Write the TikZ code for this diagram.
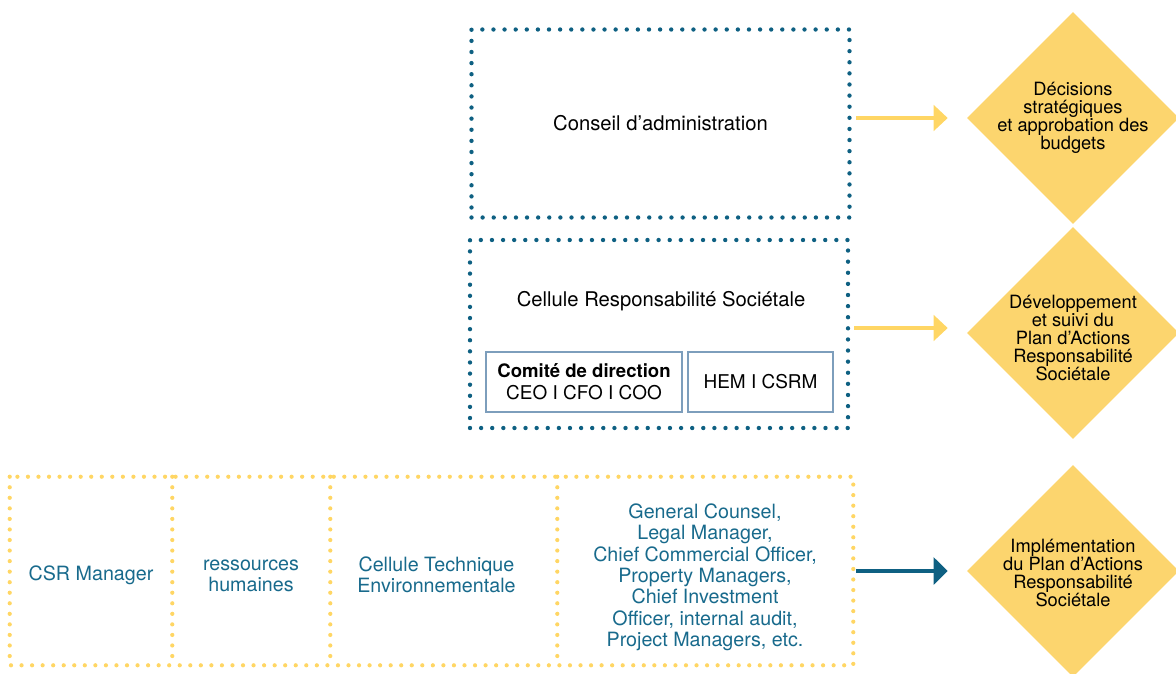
\documentclass[tikz,border=0pt]{standalone}
\usepackage{fontspec}
\setmainfont{TeX Gyre Heros}
\usepackage{tikz}
\usetikzlibrary{shapes.geometric,arrows.meta,calc}
\definecolor{csrteal}{RGB}{14,96,130}
\definecolor{csrtext}{RGB}{24,106,140}
\definecolor{csryellow}{RGB}{255,214,100}
\definecolor{csrdiamond}{RGB}{252,213,110}
\definecolor{csrframe}{RGB}{125,158,188}
\newcommand{\pxu}{0.025cm}
\tikzset{
  tealdots/.style={draw=csrteal,line width=3.1pt,line cap=round,dash pattern=on 0pt off 7.9pt},
  yellowdots/.style={draw=csryellow,line width=3pt,line cap=round,dash pattern=on 0pt off 7.5pt},
  tealbox/.style={tealdots,minimum width=378*\pxu,minimum height=188*\pxu,inner sep=0pt,font=\fontsize{14.4}{17}\selectfont},
  framebox/.style={draw=csrframe,line width=0.9pt,minimum height=60*\pxu,inner sep=0pt,align=center,font=\fontsize{13.5}{15.5}\selectfont},
  cell/.style={minimum height=188*\pxu,inner sep=0pt},
  celltext/.style={align=center,inner sep=0pt,text=csrtext,font=\fontsize{14}{15.2}\selectfont},
  dia/.style={diamond,fill=csrdiamond,minimum width=212*\pxu,minimum height=212*\pxu,inner sep=0pt},
  diatext/.style={align=center,inner sep=0pt,font=\fontsize{13}{12.9}\selectfont},
  yarrow/.style={draw=csryellow,line width=2.8pt,-{Triangle[length=10pt,width=18pt]},shorten <=3pt,shorten >=13.5pt},
  tarrow/.style={draw=csrteal,line width=3.5pt,-{Triangle[length=10pt,width=19pt]},shorten <=2pt,shorten >=13.5pt}
}
\begin{document}
\begin{tikzpicture}[x=0.025cm,y=-0.025cm]
\useasboundingbox (0,0) rectangle (1176,673);
% top boxes
\node[tealbox] (conseil) at (660.5,123.5) {Conseil d’administration};
\node[tealbox] (cellule) at (659,334) {};
\node[font=\fontsize{14.4}{17}\selectfont] (celltxt) at (661,301) {Cellule Responsabilité Sociétale};
\node[framebox,minimum width=196*\pxu] (codir) at (584,382) {{\bfseries\fontsize{13.2}{15.5}\selectfont Comité de direction}\\CEO I CFO I COO};
\node[framebox,minimum width=145*\pxu] (hem) at (760.5,382) {HEM I CSRM};
% bottom row
\node[cell,minimum width=162*\pxu] (csrmgr) at (91,571) {};
\node[cell,minimum width=158*\pxu] (rh) at (251,571) {};
\node[cell,minimum width=227*\pxu] (cte) at (443.5,571) {};
\node[cell,minimum width=296*\pxu] (autres) at (705,571) {};
\node[celltext] (csrtxt) at ([yshift=-3pt]csrmgr.center) {CSR Manager};
\node[celltext] (rhtxt) at ([yshift=-3.5pt]rh.center) {ressources\\humaines};
\node[celltext] (ctetxt) at ([xshift=-5pt,yshift=-2.5pt]cte.center) {Cellule Technique\\Environnementale};
\node[celltext] (autrestxt) at ([yshift=-4.5pt]autres.center) {General Counsel,\\Legal Manager,\\Chief Commercial Officer,\\Property Managers,\\Chief Investment\\Officer, internal audit,\\Project Managers, etc.};
\draw[yellowdots] (csrmgr.north west) rectangle (autres.south east);
\draw[yellowdots] (csrmgr.north east) -- (csrmgr.south east);
\draw[yellowdots] (rh.north east) -- (rh.south east);
\draw[yellowdots] (cte.north east) -- (cte.south east);
% diamonds
\node[dia] (decis) at (1073,118) {};
\node[diatext] (decistxt) at (decis) {Décisions\\stratégiques\\et approbation des\\budgets};
\node[dia] (suivi) at (1073,333) {};
\node[diatext] (suivitxt) at (1073,338) {Développement\\et suivi du\\Plan d’Actions\\Responsabilité\\Sociétale};
\node[dia] (impl) at (1073,571) {};
\node[diatext] (impltxt) at (1073,573) {Implémentation\\du Plan d’Actions\\Responsabilité\\Sociétale};
% arrows
\draw[yarrow] (decis.west -| conseil.east) -- (decis.west);
\draw[yarrow] ($(suivi.west -| cellule.east)+(0,-5)$) -- ($(suivi.west)+(0,-5)$);
\draw[tarrow] (impl.west -| autres.east) -- (impl.west);
\end{tikzpicture}
\end{document}
